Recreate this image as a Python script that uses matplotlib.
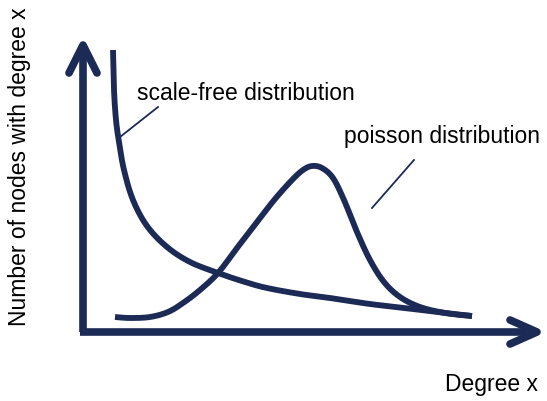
import numpy as np
import matplotlib.pyplot as plt

NAVY = '#1C2A56'

# curve shapes, drawn in a 547 x 401 canvas space (y grows downward)
scale_free_x = [113, 114, 116, 119, 124, 133, 147, 167, 190, 218, 245, 267, 300, 330, 370, 413, 445, 472]
scale_free_y = [50, 90, 120, 142, 170, 200, 226, 247, 262, 273, 282, 288, 294, 298, 304, 309, 313, 316]

poisson_x = [115, 130, 150, 168, 183, 200, 218, 237, 257, 275, 292, 303, 312, 322, 333, 344, 357, 370, 384, 400, 420, 445, 472]
poisson_y = [317, 318, 317, 312, 303, 290, 273, 248, 222, 199, 180, 170, 166, 168, 178, 200, 232, 260, 282, 297, 307, 313, 316]

fig = plt.figure(figsize=(5.47, 4.01), dpi=100)
ax = fig.add_axes([0, 0, 1, 1])
ax.set_xlim(0, 547)
ax.set_ylim(401, 0)
ax.axis('off')


def smooth(xs, ys, steps=20):
    # Catmull-Rom spline through the control points
    xs = np.asarray(xs, float)
    ys = np.asarray(ys, float)
    out_x, out_y = [], []
    for i in range(len(xs) - 1):
        p0 = max(i - 1, 0)
        p3 = min(i + 2, len(xs) - 1)
        for s in np.linspace(0, 1, steps, endpoint=False):
            s2, s3 = s * s, s * s * s

            def cr(a, b, c, e):
                return 0.5 * ((2 * b) + (-a + c) * s + (2 * a - 5 * b + 4 * c - e) * s2
                              + (-a + 3 * b - 3 * c + e) * s3)
            out_x.append(cr(xs[p0], xs[i], xs[i + 1], xs[p3]))
            out_y.append(cr(ys[p0], ys[i], ys[i + 1], ys[p3]))
    out_x.append(xs[-1])
    out_y.append(ys[-1])
    return np.array(out_x), np.array(out_y)


sx, sy = smooth(scale_free_x, scale_free_y)
px, py = smooth(poisson_x, poisson_y)
ax.plot(sx, sy, color=NAVY, lw=4.2, solid_capstyle='butt')
ax.plot(px, py, color=NAVY, lw=4.2, solid_capstyle='butt')

# axes with chevron arrowheads
ax.plot([83, 83], [332, 46], color=NAVY, lw=5.5, solid_capstyle='butt')
ax.plot([80, 534], [332, 332], color=NAVY, lw=5.5, solid_capstyle='butt')
ax.plot([69, 83, 97], [73, 45, 73], color=NAVY, lw=5.5,
        solid_joinstyle='round', solid_capstyle='round')
ax.plot([510, 537, 510], [320, 332, 344], color=NAVY, lw=5.5,
        solid_joinstyle='round', solid_capstyle='round')

# leader lines
ax.plot([120, 158], [137, 107], color=NAVY, lw=1.3)
ax.plot([372, 414], [208, 160], color=NAVY, lw=1.3)

font = 'Liberation Sans'
fs = 16.5
ax.text(137, 93, 'scale-free distribution', fontsize=fs, family=font,
        ha='left', va='center')
ax.text(344, 136, 'poisson distribution', fontsize=fs, family=font,
        ha='left', va='center')
ax.text(538, 385, 'Degree x', fontsize=fs, family=font,
        ha='right', va='center')
ax.text(20, 167, 'Number of nodes with degree x', fontsize=fs, family=font,
        ha='center', va='center', rotation=90)

fig.savefig('out.png', dpi=100, facecolor='white')
